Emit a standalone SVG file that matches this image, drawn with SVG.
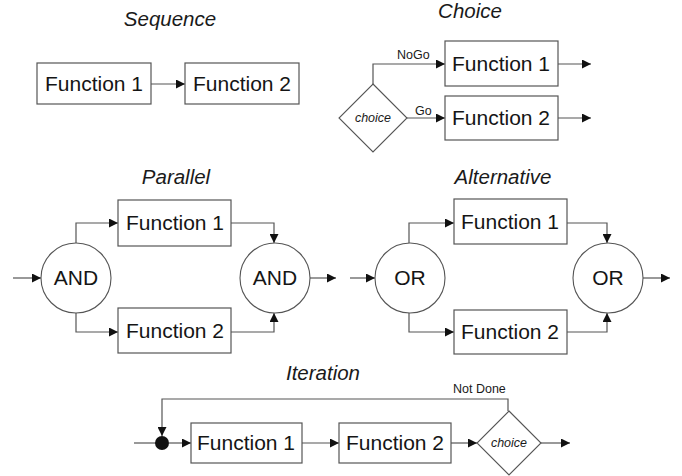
<svg xmlns="http://www.w3.org/2000/svg" width="682" height="476" viewBox="0 0 682 476">
  <defs>
    <marker id="arrow" viewBox="0 0 10 10" refX="10" refY="5" markerWidth="11" markerHeight="9" markerUnits="userSpaceOnUse" orient="auto">
      <path d="M0,0 L10,5 L0,10 Z" fill="#111"/>
    </marker>
    <style>
      .title { font-family: "Liberation Sans", Arial, sans-serif; font-size: 20.5px; font-style: italic; fill: #1a1a1a; text-anchor: middle; }
      .fn { font-family: "Liberation Sans", Arial, sans-serif; font-size: 21px; fill: #151515; text-anchor: middle; }
      .small { font-family: "Liberation Sans", Arial, sans-serif; font-size: 12.5px; fill: #1a1a1a; }
      .choice { font-family: "Liberation Sans", Arial, sans-serif; font-size: 12.5px; font-style: italic; fill: #1a1a1a; text-anchor: middle; }
      .box { fill: #fff; stroke: #555; stroke-width: 1.2; }
      .gate { fill: #fff; stroke: #555; stroke-width: 1.1; }
      .link { fill: none; stroke: #555; stroke-width: 1.2; marker-end: url(#arrow); }
      .plain { fill: none; stroke: #555; stroke-width: 1.2; }
    </style>
  </defs>
  <rect width="682" height="476" fill="#fff"/>

  <!-- section titles -->
  <text class="title" x="170" y="26">Sequence</text>
  <text class="title" x="470" y="18">Choice</text>
  <text class="title" x="176" y="184">Parallel</text>
  <text class="title" x="503" y="184">Alternative</text>
  <text class="title" x="323" y="380">Iteration</text>

  <!-- connectors -->
  <g id="connectors">
    <!-- sequence -->
    <path class="link" d="M151,84 H185"/>
    <!-- choice -->
    <path class="link" d="M373,84 V64 H445"/>
    <path class="link" d="M407,118 H445"/>
    <path class="link" d="M558,64 H591"/>
    <path class="link" d="M558,118 H591"/>
    <!-- parallel -->
    <path class="link" d="M13,278 H41"/>
    <path class="link" d="M76,243 V223 H118"/>
    <path class="link" d="M76,313 V332 H118"/>
    <path class="link" d="M231,223 H274 V243"/>
    <path class="link" d="M231,332 H274 V313"/>
    <path class="link" d="M310,278 H336"/>
    <!-- alternative -->
    <path class="link" d="M350,278 H375"/>
    <path class="link" d="M409,243 V223 H454"/>
    <path class="link" d="M409,313 V332 H454"/>
    <path class="link" d="M567,223 H607 V243"/>
    <path class="link" d="M567,332 H607 V313"/>
    <path class="link" d="M643,278 H670"/>
    <!-- iteration -->
    <path class="plain" d="M134,443 H156"/>
    <path class="link" d="M508,411 V399 H162 V436"/>
    <path class="link" d="M169,443 H191"/>
    <path class="link" d="M302,443 H339"/>
    <path class="link" d="M451,443 H477"/>
    <path class="link" d="M541,443 H570"/>
  </g>

  <!-- edge labels -->
  <text class="small" x="397" y="59">NoGo</text>
  <text class="small" x="415" y="115">Go</text>
  <text class="small" x="453" y="393">Not Done</text>

  <!-- sequence nodes -->
  <g id="seq-f1"><rect class="box" x="37" y="63" width="114" height="41"/><text class="fn" x="94" y="91">Function 1</text></g>
  <g id="seq-f2"><rect class="box" x="185" y="63" width="114" height="41"/><text class="fn" x="242" y="91">Function 2</text></g>

  <!-- choice nodes -->
  <g id="choice-d"><path class="gate" d="M373,84 L407,118 L373,152 L339,118 Z"/><text class="choice" x="373" y="122">choice</text></g>
  <g id="choice-f1"><rect class="box" x="445" y="41" width="113" height="45"/><text class="fn" x="501" y="71">Function 1</text></g>
  <g id="choice-f2"><rect class="box" x="445" y="96" width="113" height="44"/><text class="fn" x="501" y="125">Function 2</text></g>

  <!-- parallel nodes -->
  <g id="par-and-in"><circle class="gate" cx="76" cy="278" r="35"/><text class="fn" x="76" y="285">AND</text></g>
  <g id="par-f1"><rect class="box" x="118" y="200" width="113" height="46"/><text class="fn" x="175" y="230">Function 1</text></g>
  <g id="par-f2"><rect class="box" x="118" y="308" width="113" height="45"/><text class="fn" x="175" y="338">Function 2</text></g>
  <g id="par-and-out"><circle class="gate" cx="275" cy="278" r="35"/><text class="fn" x="275" y="285">AND</text></g>

  <!-- alternative nodes -->
  <g id="alt-or-in"><circle class="gate" cx="410" cy="278" r="35"/><text class="fn" x="410" y="285">OR</text></g>
  <g id="alt-f1"><rect class="box" x="454" y="199" width="113" height="45"/><text class="fn" x="510" y="229">Function 1</text></g>
  <g id="alt-f2"><rect class="box" x="454" y="310" width="113" height="44"/><text class="fn" x="510" y="339">Function 2</text></g>
  <g id="alt-or-out"><circle class="gate" cx="608" cy="278" r="35"/><text class="fn" x="608" y="285">OR</text></g>

  <!-- iteration nodes -->
  <g id="iter-join"><circle cx="162" cy="443" r="7" fill="#111"/></g>
  <g id="iter-f1"><rect class="box" x="191" y="423" width="111" height="40"/><text class="fn" x="246" y="450">Function 1</text></g>
  <g id="iter-f2"><rect class="box" x="339" y="423" width="112" height="40"/><text class="fn" x="395" y="450">Function 2</text></g>
  <g id="iter-choice"><path class="gate" d="M509,411 L541,443 L509,475 L477,443 Z"/><text class="choice" x="509" y="447">choice</text></g>
</svg>
